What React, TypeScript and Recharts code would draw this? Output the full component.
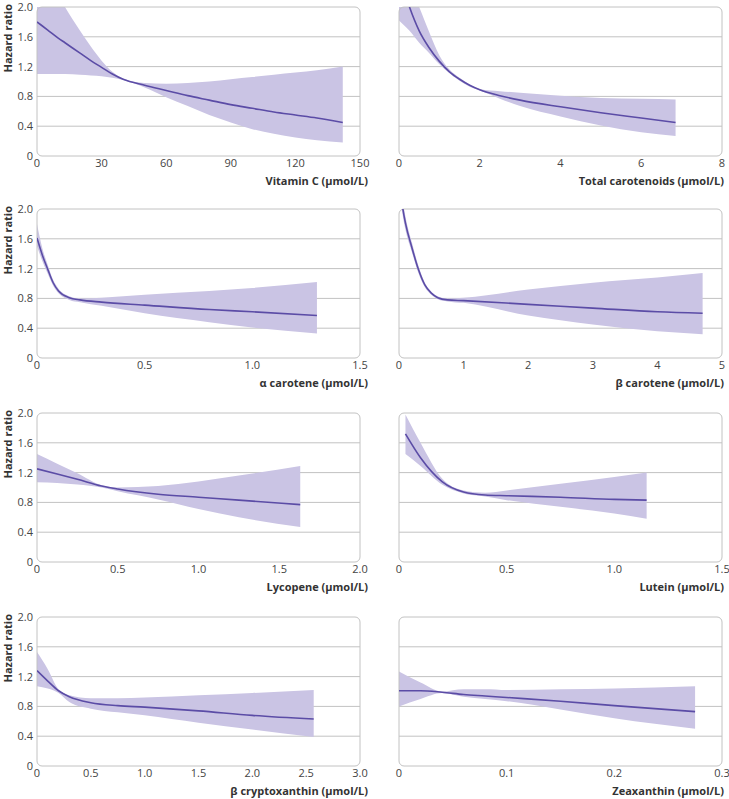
import React from 'react';
import {
  Area,
  CartesianGrid,
  ComposedChart,
  Line,
  ReferenceArea,
  XAxis,
  YAxis,
} from 'recharts';

const BAND = '#cac4e4';
const LINE = '#5b4ca6';
const GRID = '#c2c2c2';
const FONT = '"Open Sans", "Noto Sans", sans-serif';

const yTicks = [0, 0.4, 0.8, 1.2, 1.6, 2.0];

// Vitamin C
const vitCX = [0, 5, 10, 13, 20, 25, 30, 35, 40, 50, 60, 70, 80, 90, 100, 110, 120, 130, 142];
const vitCHR = [1.8, 1.69, 1.58, 1.52, 1.38, 1.28, 1.19, 1.1, 1.03, 0.95, 0.88, 0.81, 0.75, 0.69, 0.64, 0.59, 0.55, 0.51, 0.45];
const vitCLow = [1.1, 1.1, 1.1, 1.1, 1.09, 1.08, 1.07, 1.05, 1.02, 0.92, 0.79, 0.67, 0.55, 0.45, 0.36, 0.3, 0.25, 0.21, 0.18];
const vitCHigh = [2.8, 2.45, 2.15, 2.0, 1.68, 1.47, 1.28, 1.13, 1.04, 0.98, 0.97, 0.98, 1.0, 1.03, 1.06, 1.09, 1.12, 1.15, 1.2];
const vitCTicks = [0, 30, 60, 90, 120, 150];

// Total carotenoids
const totX = [0, 0.26, 0.5, 0.75, 1.0, 1.25, 1.5, 1.75, 2.0, 2.5, 3, 4, 5, 6, 6.85];
const totHR = [2.45, 2.0, 1.68, 1.45, 1.27, 1.13, 1.03, 0.95, 0.89, 0.81, 0.75, 0.66, 0.58, 0.51, 0.45];
const totLow = [1.82, 1.68, 1.52, 1.38, 1.23, 1.11, 1.01, 0.93, 0.88, 0.77, 0.67, 0.53, 0.41, 0.32, 0.27];
const totHigh = [2.6, 2.3, 2.0, 1.66, 1.35, 1.16, 1.05, 0.96, 0.9, 0.87, 0.85, 0.81, 0.78, 0.77, 0.76];
const totTicks = [0, 2, 4, 6, 8];

// α carotene
const aCarX = [0, 0.025, 0.05, 0.075, 0.1, 0.15, 0.2, 0.3, 0.5, 0.8, 1.0, 1.3];
const aCarHR = [1.61, 1.38, 1.19, 1.01, 0.9, 0.81, 0.78, 0.75, 0.71, 0.65, 0.62, 0.57];
const aCarLow = [1.5, 1.3, 1.13, 0.97, 0.87, 0.78, 0.75, 0.7, 0.6, 0.48, 0.41, 0.33];
const aCarHigh = [1.8, 1.47, 1.25, 1.05, 0.93, 0.83, 0.8, 0.81, 0.85, 0.9, 0.94, 1.02];
const aCarTicks = [0, 0.5, 1.0, 1.5];

// β carotene
const bCarX = [0, 0.06, 0.1, 0.2, 0.3, 0.4, 0.5, 0.6, 0.75, 1, 2, 3, 4, 4.7];
const bCarHR = [2.45, 2.0, 1.81, 1.48, 1.19, 0.98, 0.87, 0.81, 0.78, 0.77, 0.72, 0.67, 0.62, 0.6];
const bCarLow = [2.3, 1.9, 1.72, 1.42, 1.14, 0.95, 0.85, 0.79, 0.76, 0.74, 0.57, 0.45, 0.36, 0.32];
const bCarHigh = [2.6, 2.1, 1.9, 1.55, 1.24, 1.01, 0.89, 0.83, 0.8, 0.81, 0.92, 1.01, 1.08, 1.14];
const bCarTicks = [0, 1, 2, 3, 4, 5];

// Lycopene
const lycX = [0, 0.125, 0.25, 0.4, 0.5, 0.75, 1.0, 1.25, 1.63];
const lycHR = [1.25, 1.18, 1.11, 1.02, 0.98, 0.91, 0.87, 0.83, 0.77];
const lycLow = [1.07, 1.06, 1.04, 1.0, 0.95, 0.84, 0.71, 0.6, 0.47];
const lycHigh = [1.45, 1.32, 1.19, 1.03, 1.0, 1.02, 1.08, 1.16, 1.29];
const lycTicks = [0, 0.5, 1.0, 1.5, 2.0];

// Lutein
const lutX = [0.03, 0.1, 0.2, 0.3, 0.4, 0.5, 0.75, 1.0, 1.15];
const lutHR = [1.72, 1.4, 1.08, 0.94, 0.9, 0.89, 0.87, 0.84, 0.83];
const lutLow = [1.45, 1.29, 1.04, 0.92, 0.88, 0.83, 0.74, 0.65, 0.58];
const lutHigh = [1.98, 1.6, 1.12, 0.96, 0.93, 0.96, 1.05, 1.14, 1.2];
const lutTicks = [0, 0.5, 1.0, 1.5];

// β cryptoxanthin
const bCryX = [0, 0.1, 0.2, 0.3, 0.5, 0.75, 1.0, 1.5, 2.0, 2.57];
const bCryHR = [1.28, 1.14, 1.01, 0.93, 0.85, 0.81, 0.79, 0.74, 0.68, 0.63];
const bCryLow = [1.07, 1.04, 0.98, 0.86, 0.77, 0.72, 0.68, 0.58, 0.49, 0.39];
const bCryHigh = [1.53, 1.3, 1.03, 0.95, 0.91, 0.91, 0.92, 0.95, 0.98, 1.02];
const bCryTicks = [0, 0.5, 1.0, 1.5, 2.0, 2.5, 3.0];

// Zeaxanthin
const zeaX = [0, 0.02, 0.04, 0.06, 0.08, 0.1, 0.15, 0.2, 0.275];
const zeaHR = [1.01, 1.01, 0.99, 0.96, 0.94, 0.92, 0.87, 0.81, 0.73];
const zeaLow = [0.8, 0.9, 0.98, 0.93, 0.9, 0.87, 0.76, 0.64, 0.5];
const zeaHigh = [1.27, 1.12, 1.0, 1.03, 1.03, 1.02, 1.03, 1.04, 1.07];
const zeaTicks = [0, 0.1, 0.2, 0.3];

type PanelProps = {
  xs: number[];
  hr: number[];
  lo: number[];
  hi: number[];
  ticks: number[];
  decimals: number;
  title: string;
  left: boolean;
  top: number;
};

const fmt = (d: number) => (v: number) => (v === 0 ? '0' : v.toFixed(d));

const YTitle = (props: any) => {
  const vb = props.viewBox || { x: 0, y: 0 };
  const x = 12;
  const y = vb.y - 3;
  return (
    <text
      x={x}
      y={y}
      transform={`rotate(-90 ${x} ${y})`}
      textAnchor="end"
      fontSize={11}
      fontWeight={700}
      fill="#333"
      fontFamily={FONT}
    >
      Hazard ratio
    </text>
  );
};

const XTitle = (props: any) => {
  const vb = props.viewBox || { x: 0, y: 0, width: 0 };
  return (
    <text
      x={vb.x + vb.width + props.shift}
      y={vb.y + 29}
      textAnchor="end"
      fontSize={11}
      fontWeight={700}
      fill="#333"
      fontFamily={FONT}
    >
      {props.text}
    </text>
  );
};

const Panel: React.FC<PanelProps> = ({ xs, hr, lo, hi, ticks, decimals, title, left, top }) => {
  const data = xs.map((x, i) => ({ x, hr: hr[i], band: [lo[i], hi[i]] }));
  const xMax = ticks[ticks.length - 1];
  return (
    <div style={{ position: 'absolute', left: left ? 0 : 360, top: top - 5 }}>
      <ComposedChart
        width={left ? 370 : 369}
        height={209}
        data={data}
        margin={{ top: 10, right: left ? 10 : 7, bottom: 0, left: left ? 0 : 39 }}
      >
        <CartesianGrid horizontal vertical={false} horizontalValues={[0.4, 0.8, 1.2, 1.6]} stroke={GRID} />
        <XAxis
          type="number"
          dataKey="x"
          domain={[0, xMax]}
          ticks={ticks}
          interval={0}
          allowDataOverflow
          axisLine={false}
          tickLine={false}
          tickSize={0}
          tickMargin={3}
          height={50}
          tickFormatter={fmt(decimals)}
          tick={{ fontSize: 11, fill: '#444', fontFamily: FONT }}
          label={<XTitle text={title} shift={left ? 8 : 2} />}
        />
        <YAxis
          type="number"
          domain={[0, 2]}
          ticks={yTicks}
          interval={0}
          allowDataOverflow
          hide={!left}
          width={37}
          axisLine={false}
          tickLine={false}
          tickSize={0}
          tickMargin={4}
          tickFormatter={fmt(1)}
          tick={{ fontSize: 11, fill: '#444', fontFamily: FONT }}
          label={left ? <YTitle /> : undefined}
        />
        <Area
          type="monotone"
          dataKey="band"
          stroke="none"
          fill={BAND}
          fillOpacity={1}
          isAnimationActive={false}
        />
        <Line
          type="monotone"
          dataKey="hr"
          stroke={LINE}
          strokeWidth={1.6}
          dot={false}
          activeDot={false}
          isAnimationActive={false}
        />
        <ReferenceArea
          x1={0}
          x2={xMax}
          y1={0}
          y2={2}
          fill="none"
          stroke={GRID}
          strokeWidth={1}
          radius={5}
          ifOverflow="visible"
        />
      </ComposedChart>
    </div>
  );
};

export default function App() {
  return (
    <div style={{ position: 'absolute', left: 0, top: 0, width: 729, height: 799, background: '#fff', fontFamily: FONT }}>
      <Panel xs={vitCX} hr={vitCHR} lo={vitCLow} hi={vitCHigh} ticks={vitCTicks} decimals={0} title="Vitamin C (µmol/L)" left top={2} />
      <Panel xs={totX} hr={totHR} lo={totLow} hi={totHigh} ticks={totTicks} decimals={0} title="Total carotenoids (µmol/L)" left={false} top={2} />
      <Panel xs={aCarX} hr={aCarHR} lo={aCarLow} hi={aCarHigh} ticks={aCarTicks} decimals={1} title="α carotene (µmol/L)" left top={204} />
      <Panel xs={bCarX} hr={bCarHR} lo={bCarLow} hi={bCarHigh} ticks={bCarTicks} decimals={0} title="β carotene (µmol/L)" left={false} top={204} />
      <Panel xs={lycX} hr={lycHR} lo={lycLow} hi={lycHigh} ticks={lycTicks} decimals={1} title="Lycopene (µmol/L)" left top={408} />
      <Panel xs={lutX} hr={lutHR} lo={lutLow} hi={lutHigh} ticks={lutTicks} decimals={1} title="Lutein (µmol/L)" left={false} top={408} />
      <Panel xs={bCryX} hr={bCryHR} lo={bCryLow} hi={bCryHigh} ticks={bCryTicks} decimals={1} title="β cryptoxanthin (µmol/L)" left top={612} />
      <Panel xs={zeaX} hr={zeaHR} lo={zeaLow} hi={zeaHigh} ticks={zeaTicks} decimals={1} title="Zeaxanthin (µmol/L)" left={false} top={612} />
    </div>
  );
}
